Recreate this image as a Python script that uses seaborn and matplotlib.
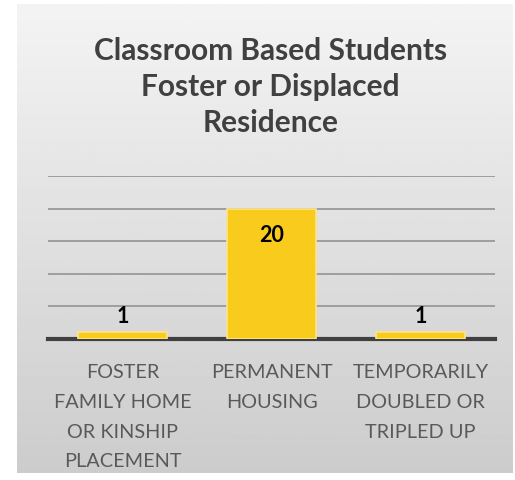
import numpy as np
import matplotlib
matplotlib.use("Agg")
import matplotlib.pyplot as plt
import seaborn as sns

# Chart data
categories = ["Foster Family Home or Kinship Placement", "Permanent Housing",
              "Temporarily Doubled or Tripled Up"]
tick_labels = ["FOSTER\nFAMILY HOME\nOR KINSHIP\nPLACEMENT", "PERMANENT\nHOUSING",
               "TEMPORARILY\nDOUBLED OR\nTRIPLED UP"]
values = [1, 20, 1]
title = "Classroom Based Students\nFoster or Displaced\nResidence"

sns.set_style("white")
plt.rcParams["font.family"] = ["Lato", "DejaVu Sans"]

W, H = 515, 481
fig = plt.figure(figsize=(W / 100, H / 100), dpi=100)
fig.patch.set_facecolor("white")

# Gradient panel behind the chart
bg = fig.add_axes([17 / W, 1 - 474 / H, (513 - 17) / W, (474 - 5) / H])
grad = np.linspace(0.955, 0.80, 256).reshape(-1, 1)
bg.imshow(np.repeat(grad, 2, axis=1), cmap="gray", vmin=0, vmax=1, aspect="auto",
          extent=[0, 1, 0, 1])
bg.set_axis_off()

ax = fig.add_axes([48 / W, 1 - 340 / H, (495 - 48) / W, (340 - 177) / H])
ax.patch.set_alpha(0)

sns.barplot(x=categories, y=values, color="#f9cb1c", width=0.6, ax=ax,
            edgecolor="#fce48a", linewidth=1.2, saturation=1, zorder=3)

ax.set_ylim(0, 25)
ax.set_yticks([5, 10, 15, 20, 25])
ax.yaxis.grid(True, color="#9e9e9e", linewidth=1.4, zorder=0)
ax.set_axisbelow(True)
ax.tick_params(axis="y", left=False, labelleft=False)
ax.tick_params(axis="x", bottom=False)
for s in ["top", "right", "left"]:
    ax.spines[s].set_visible(False)
ax.spines["bottom"].set_color("#404040")
ax.spines["bottom"].set_linewidth(3)
ax.set_xlabel("")
ax.set_ylabel("")

# x labels drawn as text so the line spacing sticks
ax.set_xticks(range(len(categories)))
ax.set_xticklabels([])
for i, lab in enumerate(tick_labels):
    ax.annotate(lab, xy=(i, 0), xycoords=("data", "axes fraction"),
                xytext=(0, -17.5), textcoords="offset points", ha="center", va="top",
                fontsize=14.3, color="#595959", linespacing=1.9)

# Data labels
for i, v in enumerate(values):
    y = v - 4 if v > 5 else v + 2.6
    ax.text(i, y, str(v), ha="center", va="center", fontsize=15.5,
            fontweight="bold", color="black", zorder=5)

fig.text(0.525, 1 - 87 / H, title, ha="center", va="center", fontsize=21.5,
         fontweight="bold", color="#404040", linespacing=1.36)

fig.savefig("out.png", dpi=100)
